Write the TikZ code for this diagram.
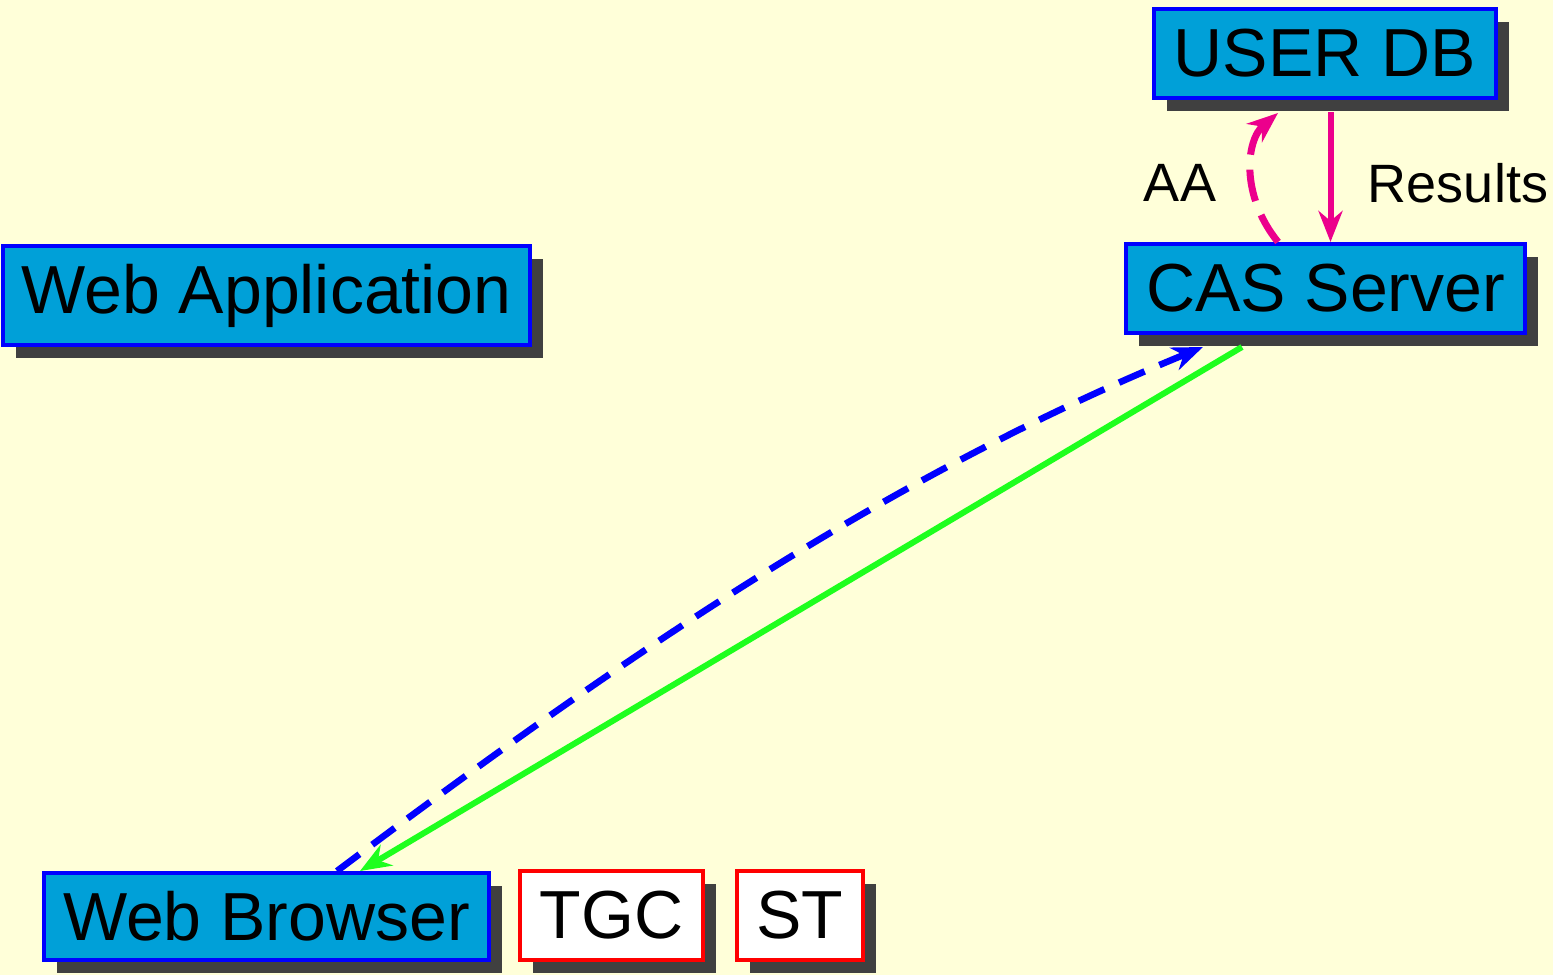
\documentclass[tikz,border=0pt]{standalone}
\usepackage{fontspec}
\setmainfont{Liberation Sans}
\usetikzlibrary{calc,arrows.meta,shadows}
\definecolor{bgyellow}{RGB}{255,255,217}
\definecolor{boxblue}{RGB}{0,160,216}
\definecolor{shadowgray}{RGB}{64,64,64}
\definecolor{magentaline}{RGB}{236,0,140}
\definecolor{greenline}{RGB}{30,255,30}
\tikzset{
  boxbase/.style={rectangle, inner sep=0pt, line width=2pt,
    font=\fontsize{34}{40}\selectfont, text=black,
    drop shadow={shadow xshift=6.5pt, shadow yshift=-6.5pt, fill=shadowgray, opacity=1}},
  entity/.style={boxbase, draw=blue, fill=boxblue},
  token/.style={boxbase, draw=red, fill=white},
  lbl/.style={font=\fontsize{27}{32}\selectfont, text=black},
  dashpat/.style={dash pattern=on 14pt off 8pt},
  dashpataa/.style={dash pattern=on 16pt off 7.5pt},
  >={Stealth[length=15.5pt,width=12pt,inset=5pt]}
}
\begin{document}
\begin{tikzpicture}[x=0.5pt,y=-0.5pt]
\fill[bgyellow] (0,0) rectangle (1553,975);
\useasboundingbox (0,0) rectangle (1553,975);

\node[entity, minimum width=263.5pt, minimum height=49.5pt] (webapp) at (266.5,295.5) {Web Application};
\node[entity, minimum width=171pt, minimum height=44.5pt] (userdb) at (1325,53.5) {USER DB};
\node[entity, minimum width=199.5pt, minimum height=44.5pt] (cas) at (1325.5,288.5) {CAS Server};
\node[entity, minimum width=222.5pt, minimum height=43.5pt] (browser) at (266.5,916.5) {Web Browser};
\node[token, minimum width=91.5pt, minimum height=44.5pt] (tgc) at (611.5,915.5) {TGC};
\node[token, minimum width=63pt, minimum height=44.5pt] (st) at (800,915.5) {ST};

% AA (dashed, magenta) CAS -> USER DB
\draw[magentaline, line width=3.5pt, dashpataa, ->]
  ($(cas.north)+(-47.5,0)$) .. controls +(-38,-47) and +(-32,27) .. ($(userdb.south)+(-47,13)$);
% Results (solid, magenta) USER DB -> CAS
\draw[magentaline, line width=3pt, ->]
  ($(userdb.south)+(5.5,12)$) -- ($(cas.north)+(5,0)$);
\node[lbl] (aa) at (1180,183) {AA};
\node[lbl] (results) at (1458,183) {Results};

% blue dashed Browser -> CAS
\draw[blue, line width=3.3pt, dashpat, ->]
  ($(browser.north)+(70.5,0)$) .. controls +(280,-210) and +(-324,133) .. ($(cas.south)+(-122.5,12)$);
% green CAS -> Browser
\draw[greenline, line width=3pt, ->]
  ($(cas.south)+(-83.5,12)$) -- ($(browser.north)+(93.5,0)$);
\end{tikzpicture}
\end{document}
